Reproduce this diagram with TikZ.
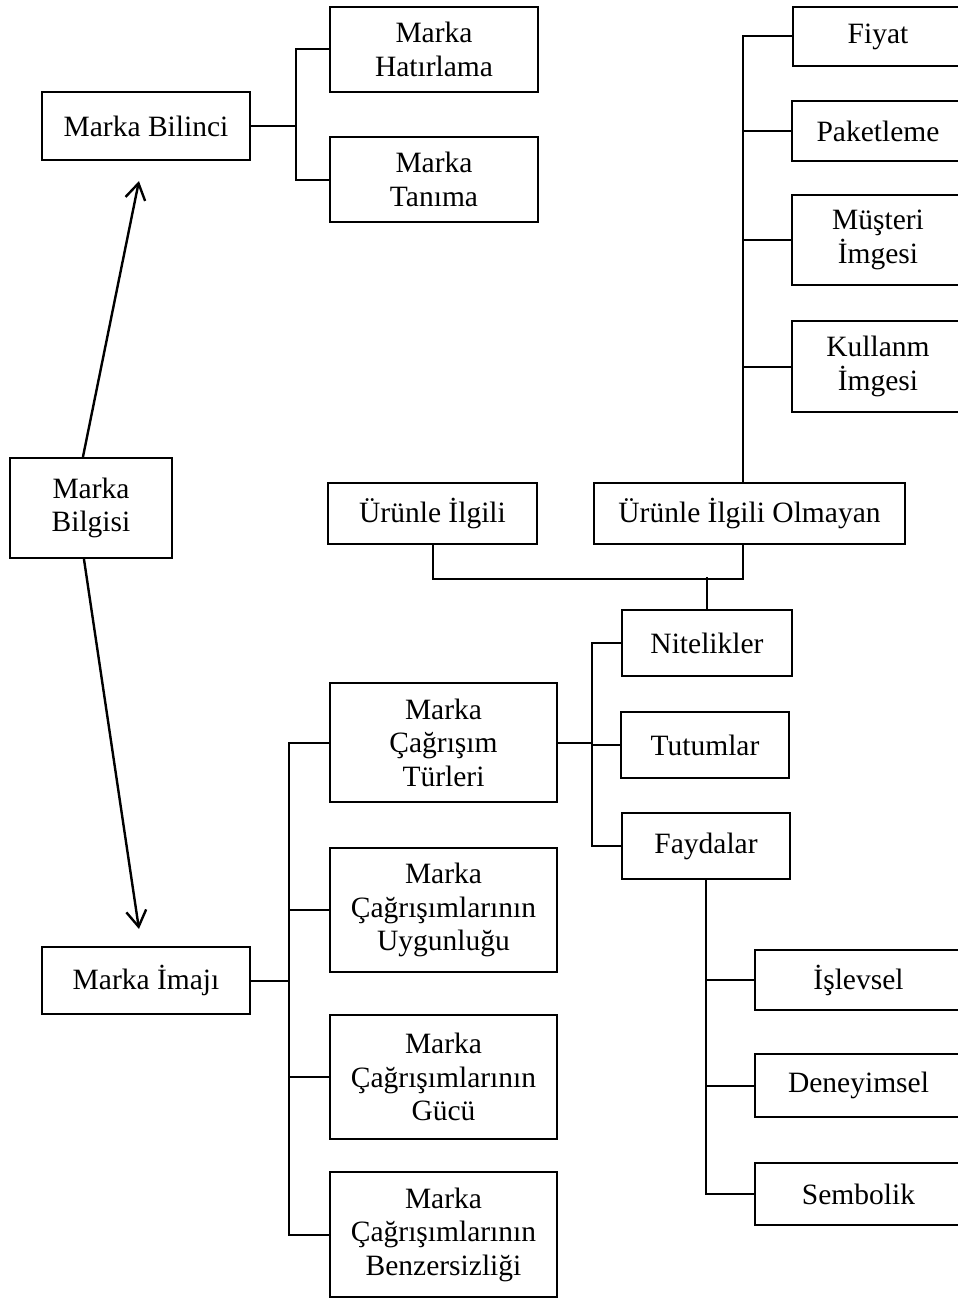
\documentclass[tikz,border=0pt]{standalone}
\usepackage{fontspec}
\setmainfont{Liberation Serif}
\usetikzlibrary{calc,arrows.meta}
\tikzset{
  box/.style={draw, line width=2.1pt, inner sep=0pt, align=center,
    font=\fontsize{29.5}{33.5}\selectfont},
  link/.style={line width=2pt},
  arr/.style={line width=2.4pt, -{Straight Barb[length=16pt,width=20pt,line width=2.4pt]}}
}
\begin{document}
\begin{tikzpicture}[x=1pt,y=-1pt]
\useasboundingbox (0,0) rectangle (958,1298);
\clip (0,0) rectangle (958,1298);

% awareness branch
\node[box, minimum width=208pt, minimum height=85pt] (hatirlama) at (434,49.5) {Marka\\Hatırlama};
\node[box, minimum width=208pt, minimum height=68pt] (bilinci) at (146,126) {Marka Bilinci};
\node[box, minimum width=208pt, minimum height=85pt] (tanima) at (434,179.5) {Marka\\Tanıma};

% non-product related attributes
\node[box, minimum width=170pt, minimum height=59pt] (fiyat) at (878,36.5) {Fiyat};
\node[box, minimum width=172pt, minimum height=60pt] (paket) at (878,131) {Paketleme};
\node[box, minimum width=172pt, minimum height=90pt] (musteri) at (878,240) {Müşteri\\İmgesi};
\node[box, minimum width=172pt, minimum height=91pt] (kullanim) at (878,366.5) {Kullanm\\İmgesi};

% root
\node[box, minimum width=162pt, minimum height=100pt] (bilgisi) at (91,508) {Marka\\Bilgisi};

\node[box, minimum width=209pt, minimum height=61pt] (urunle) at (432.5,513.5) {Ürünle İlgili};
\node[box, minimum width=311pt, minimum height=61pt] (olmayan) at (749.5,513.5) {Ürünle İlgili Olmayan};

% association types
\node[box, minimum width=170pt, minimum height=66pt] (nitelik) at (707,643) {Nitelikler};
\node[box, minimum width=168pt, minimum height=66pt] (tutum) at (705,745) {Tutumlar};
\node[box, minimum width=168pt, minimum height=66pt] (fayda) at (706,846) {Faydalar};

% image branch
\node[box, minimum width=227pt, minimum height=119pt] (turleri) at (443.5,742.5) {Marka\\Çağrışım\\Türleri};
\node[box, minimum width=227pt, minimum height=124pt] (uygun) at (443.5,910) {Marka\\Çağrışımlarının\\Uygunluğu};
\node[box, minimum width=227pt, minimum height=124pt] (gucu) at (443.5,1077) {Marka\\Çağrışımlarının\\Gücü};
\node[box, minimum width=227pt, minimum height=125pt] (benzer) at (443.5,1234.5) {Marka\\Çağrışımlarının\\Benzersizliği};
\node[box, minimum width=208pt, minimum height=67pt] (imaji) at (146,980.5) {Marka İmajı};

% benefits
\node[box, minimum width=207pt, minimum height=60pt] (islevsel) at (858.5,980) {İşlevsel};
\node[box, minimum width=207pt, minimum height=63pt] (deneyim) at (858.5,1085.5) {Deneyimsel};
\node[box, minimum width=207pt, minimum height=62pt] (sembolik) at (858.5,1194) {Sembolik};

% awareness bracket
\coordinate (b1) at ($(hatirlama.west)+(-33,0)$);
\draw[link] (hatirlama.west) -- (b1) |- (tanima.west);
\draw[link] (bilinci.east) -- (bilinci.east -| b1);

% non-product bracket
\coordinate (r1) at ($(olmayan.north)+(-6.5,0)$);
\draw[link] (r1) |- (fiyat.west);
\draw[link] (paket.west) -- (paket.west -| r1);
\draw[link] (musteri.west) -- (musteri.west -| r1);
\draw[link] (kullanim.west) -- (kullanim.west -| r1);

% product / non-product join
\draw[link] (urunle.south) -- ++(0,34) -| ($(olmayan.south)+(-6.5,0)$);
\draw[link] (nitelik.north) -- ++(0,-32);

% association types bracket
\draw[link] (turleri.east) -- ++(34,0) coordinate (t1);
\draw[link] (nitelik.west) -- (nitelik.west -| t1) |- (fayda.west);
\draw[link] (tutum.west) -- (tutum.west -| t1);

% benefits bracket
\draw[link] (fayda.south) |- (sembolik.west);
\draw[link] (islevsel.west) -- (islevsel.west -| fayda.south);
\draw[link] (deneyim.west) -- (deneyim.west -| fayda.south);

% image bracket
\draw[link] (imaji.east) -- ++(38,0) coordinate (i1);
\draw[link] (turleri.west) -- (turleri.west -| i1) |- (benzer.west);
\draw[link] (uygun.west) -- (uygun.west -| i1);
\draw[link] (gucu.west) -- (gucu.west -| i1);

% arrows from brand knowledge
\draw[arr] ($(bilgisi.north west)+(74,0)$) -- ($(bilinci.south west)+(98,20)$);
\draw[arr] ($(bilgisi.south west)+(75,0)$) -- ($(imaji.north west)+(98,-17)$);
\end{tikzpicture}
\end{document}
